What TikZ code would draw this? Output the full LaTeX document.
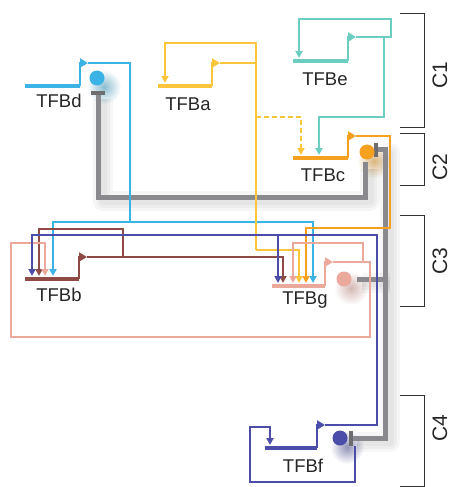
\documentclass[tikz,border=0pt]{standalone}
\usepackage{fontspec}
\setmainfont{Liberation Sans}
\usetikzlibrary{arrows.meta}

\definecolor{cblue}{HTML}{3BB4E5}
\definecolor{cyel}{HTML}{FCC63C}
\definecolor{corg}{HTML}{F5A01F}
\definecolor{cteal}{HTML}{6CCDC1}
\definecolor{cbrown}{HTML}{8E4B45}
\definecolor{cpink}{HTML}{EBA99C}
\definecolor{cdblue}{HTML}{4C4DA8}
\definecolor{cgray}{HTML}{8A8A8E}

\begin{document}
\begin{tikzpicture}[x=1pt,y=-1pt,
  act/.style={line width=1.8pt,-{Triangle[length=7pt,width=7pt]}},
  link/.style={line width=1.8pt},
  gene/.style={line width=4pt},
  prom/.style={line width=2.8pt,-{Triangle[length=8pt,width=9pt]}},
  rep/.style={line width=5pt,cgray},
  repbar/.style={line width=4.5pt,cgray!80!black},
  shade/.style={line width=#1,black,opacity=0.035,line join=round},
  lbl/.style={font=\fontsize{18.5}{20}\selectfont,text=black!85},
  clbl/.style={font=\fontsize{21}{23}\selectfont,rotate=90,text=black!85},
  brk/.style={line width=0.9pt,black!80}]
\useasboundingbox (0,0) rectangle (451,487);

% genes: right end of each gene line, where the promoter sits
\coordinate (d) at (80,86);
\coordinate (a) at (212,86);
\coordinate (e) at (348,61);
\coordinate (c) at (348,158);
\coordinate (b) at (79,279);
\coordinate (g) at (325,286);
\coordinate (f) at (317,448);

% proteins
\coordinate (pd) at (97,78);
\coordinate (pc) at (367,152);
\coordinate (pg) at (344,279);
\coordinate (pf) at (340,438);

% blurred glow below the proteins
\foreach \p/\col in {pd/cblue,pc/corg,pg/cpink,pf/cdblue}{
  \shade[inner color=\col!75!black, outer color=white, opacity=0.55]
    ([shift={(7,9)}]\p) circle (17);
}

% soft shadows of the repression lines
\foreach \w in {20pt,13pt,7pt}{
  \draw[shade=\w] ([shift={(5,4)}]365,165) |- ([shift={(5,4)}]98,197) -- ([shift={(5,4)}]98,95);
  \draw[shade=\w] ([shift={(5,4)}]378,149) -| ([shift={(5,4)}]385,438) -- ([shift={(5,4)}]352,438);
  \draw[shade=\w] ([shift={(5,4)}]357,279) -- ([shift={(5,4)}]385,279);
}

% repression
\draw[rep] (365,162) |- (98,197) -- (98,95);
\draw[repbar] (91,93) -- (105,93);
\draw[rep] (376,149) -| (385,438) -- (352,438);
\draw[repbar] (376,143) -- (376,157);
\draw[repbar] (351,431) -- (351,446);
\draw[rep] (357,279) -- (385,279);

% gene lines
\draw[gene,cblue] (d) -- ++(-55,0);
\draw[gene,cyel] (a) -- ++(-54,0);
\draw[gene,cteal] (e) -- ++(-55,0);
\draw[gene,corg] (c) -- ++(-55,0);
\draw[gene,cbrown] (b) -- ++(-54,0);
\draw[gene,cpink] (g) -- ++(-53,0);
\draw[gene,cdblue] (f) -- ++(-52,0);

% promoters
\draw[prom,cblue] (d) -- ++(0,-23) -- ++(8,0) coordinate (dp);
\draw[prom,cyel] (a) -- ++(0,-23) -- ++(8,0) coordinate (ap);
\draw[prom,cteal] (e) -- ++(0,-24) -- ++(8,0) coordinate (ep);
\draw[prom,corg] (c) -- ++(0,-22) -- ++(8,0) coordinate (cp);
\draw[prom,cbrown] (b) -- ++(0,-22) -- ++(8,0) coordinate (bp);
\draw[prom,cpink] (g) -- ++(0,-24) -- ++(8,0) coordinate (gp);
\draw[prom,cdblue] (f) -- ++(0,-23) -- ++(8,0) coordinate (fp);

% TFBd
\draw[link,cblue] (dp) -- (130,63) -- (130,222) coordinate (bsplit);
\draw[act,cblue] (bsplit) -| (53,276);
\draw[act,cblue] (bsplit) -| (313,283);

% TFBa
\draw[link,cyel] (ap) -- (256,63);
\draw[act,cyel] (256,250) -- (256,43) -| (165,83);
\draw[act,cyel] (256,250) -| (299,283);
\draw[act,cyel,dash pattern=on 5pt off 3pt] (256,117) -| (301,155);

% TFBe
\draw[act,cteal] (ep) -- (391,37) |- (299,19) -- (299,58);
\draw[act,cteal] (384,37) |- (319,117) -- (319,155);

% TFBc
\draw[act,corg] (cp) -- (390,136) |- (306,228) -- (306,283);

% TFBb
\draw[act,cbrown] (bp) -- (283,257) -- (283,283);
\draw[act,cbrown] (123,257) |- (39,229) -- (39,276);

% TFBg
\draw[act,cpink] (gp) -- (370,262) |- (11,337) |- (45,243) -- (45,276);
\draw[act,cpink] (363,262) |- (293,243) -- (293,283);

% TFBf
\draw[act,cdblue] (fp) -- (377,425) |- (32,235) -- (32,276);
\draw[act,cdblue] (278,235) -- (278,283);
\draw[act,cdblue] (355,446) |- (250,482) |- (270,427) -- (270,445);

% proteins
\fill[cblue] (pd) circle (7.5);
\fill[corg] (pc) circle (7.5);
\fill[cpink] (pg) circle (7.5);
\fill[cdblue] (pf) circle (7.5);

% labels
\node[lbl] (ld) at (59,101) {TFBd};
\node[lbl] (la) at (188,104) {TFBa};
\node[lbl] (le) at (325,79) {TFBe};
\node[lbl] (lc) at (323,175) {TFBc};
\node[lbl] (lb) at (59,295) {TFBb};
\node[lbl] (lg) at (305,300) {TFBg};
\node[lbl] (lf) at (303,466) {TFBf};

% clusters
\draw[brk] (400,13) -| (424,127) -- (400,127);
\draw[brk] (400,133) -| (424,185) -- (400,185);
\draw[brk] (400,215) -| (424,306) -- (400,306);
\draw[brk] (400,395) -| (424,486) -- (400,486);
\node[clbl] (c1) at (440,75) {C1};
\node[clbl] (c2) at (440,167) {C2};
\node[clbl] (c3) at (440,261) {C3};
\node[clbl] (c4) at (440,428) {C4};

\end{tikzpicture}
\end{document}
